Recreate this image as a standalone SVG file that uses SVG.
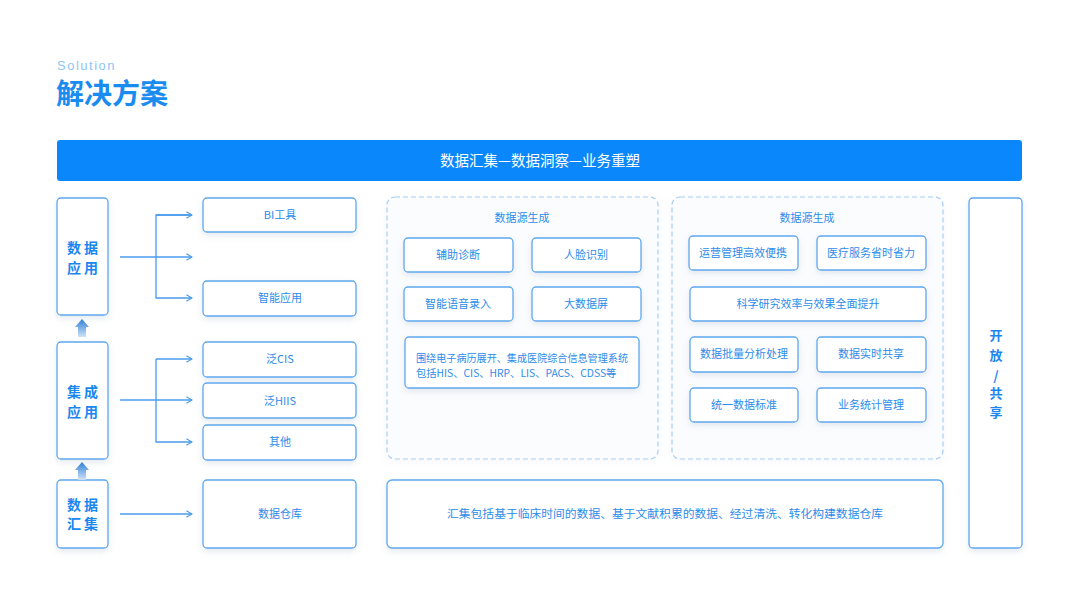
<svg xmlns="http://www.w3.org/2000/svg" width="1080" height="608" viewBox="0 0 1080 608">
<defs>
<filter id="sh" x="-20%" y="-20%" width="140%" height="160%">
<feDropShadow dx="0" dy="3" stdDeviation="3" flood-color="#8aa0b8" flood-opacity="0.22"/>
</filter>
<filter id="psh" x="-10%" y="-10%" width="120%" height="120%">
<feDropShadow dx="0" dy="2" stdDeviation="4" flood-color="#b0c4d8" flood-opacity="0.15"/>
</filter>
<linearGradient id="ug" x1="0" y1="0" x2="0" y2="1">
<stop offset="0" stop-color="#2f7fd6"/>
<stop offset="1" stop-color="#cfe3f8"/>
</linearGradient>
<marker id="ar" viewBox="0 0 10 10" refX="9" refY="5" markerWidth="8" markerHeight="8" markerUnits="userSpaceOnUse" orient="auto">
<path d="M2,1 L9,5 L2,9" fill="none" stroke="#4a9bec" stroke-width="1.5"/>
</marker>
</defs>
<style>
.box{fill:#fff;stroke:#5fa8ef;stroke-width:1.3;filter:url(#sh)}
.pan{fill:#fbfcfe;stroke:#a9cef4;stroke-width:1.2;stroke-dasharray:5 3;filter:url(#psh)}
.t{font-family:"Noto Sans CJK SC","Liberation Sans",sans-serif;fill:#2c8cea;font-size:11px;text-anchor:middle}
.tb{font-family:"Noto Sans CJK SC","Liberation Sans",sans-serif;fill:#1a86ef;font-size:14px;font-weight:bold;text-anchor:middle;letter-spacing:3px}
.ln{fill:none;stroke:#4a9bec;stroke-width:1.3}
</style>
<rect width="1080" height="608" fill="#fff"/>
<g id="title">
<text x="57" y="70" font-family="Liberation Sans, sans-serif" font-size="13" fill="#8fc4f3" letter-spacing="1.5">Solution</text>
<text x="56" y="104" font-family="Noto Sans CJK SC, sans-serif" font-size="28" font-weight="bold" fill="#1a8cf0">解决方案</text>
</g>
<g id="topbar">
<rect x="57" y="140" width="965" height="41" rx="3" fill="#0a88fb"/>
<text x="540" y="166" font-family="Noto Sans CJK SC, sans-serif" font-size="14.5" fill="#fff" text-anchor="middle">数据汇集—数据洞察—业务重塑</text>
</g>
<g id="n-sjyy"><rect class="box" x="57" y="198" width="51" height="117" rx="4"/><text class="tb" x="84" y="253">数据</text><text class="tb" x="84" y="273">应用</text></g>
<g id="n-jcyy"><rect class="box" x="57" y="342" width="51" height="117" rx="4"/><text class="tb" x="84" y="397">集成</text><text class="tb" x="84" y="417">应用</text></g>
<g id="n-sjhj"><rect class="box" x="57" y="480" width="51" height="68" rx="4"/><text class="tb" x="84" y="510">数据</text><text class="tb" x="84" y="529">汇集</text></g>
<g id="n-bi"><rect class="box" x="203" y="198" width="153" height="34" rx="4"/><text class="t" x="280" y="219" font-size="12">BI工具</text></g>
<g id="n-zn"><rect class="box" x="203" y="281" width="153" height="35" rx="4"/><text class="t" x="280" y="302" font-size="12">智能应用</text></g>
<g id="n-cis"><rect class="box" x="203" y="342" width="153" height="35" rx="4"/><text class="t" x="280" y="363" font-size="12">泛CIS</text></g>
<g id="n-hiis"><rect class="box" x="203" y="383" width="153" height="35" rx="4"/><text class="t" x="280" y="405" font-size="12">泛HIIS</text></g>
<g id="n-qt"><rect class="box" x="203" y="425" width="153" height="35" rx="4"/><text class="t" x="280" y="446" font-size="12">其他</text></g>
<g id="n-ck"><rect class="box" x="203" y="480" width="153" height="68" rx="4"/><text class="t" x="280" y="518" font-size="12">数据仓库</text></g>
<g id="p1">
<rect class="pan" x="387" y="197" width="271" height="262" rx="8"/>
<text class="t" x="522" y="222" font-size="12">数据源生成</text>
<rect class="box" x="404" y="238" width="109" height="34" rx="4"/><text class="t" x="458" y="259">辅助诊断</text>
<rect class="box" x="532" y="238" width="109" height="34" rx="4"/><text class="t" x="586" y="259">人脸识别</text>
<rect class="box" x="404" y="287" width="109" height="34" rx="4"/><text class="t" x="458" y="308">智能语音录入</text>
<rect class="box" x="532" y="287" width="109" height="34" rx="4"/><text class="t" x="586" y="308">大数据屏</text>
<rect class="box" x="405" y="337" width="234" height="51" rx="4"/>
<text class="t" x="416" y="362" style="text-anchor:start;font-size:10.3px" textLength="212" lengthAdjust="spacingAndGlyphs">围绕电子病历展开、集成医院综合信息管理系统</text>
<text class="t" x="416" y="377" style="text-anchor:start;font-size:10.3px">包括HIS、CIS、HRP、LIS、PACS、CDSS等</text>
</g>
<g id="p2">
<rect class="pan" x="672" y="197" width="271" height="262" rx="8"/>
<text class="t" x="807" y="222" font-size="12">数据源生成</text>
<rect class="box" x="689" y="236" width="109" height="34" rx="4"/><text class="t" x="743" y="257">运营管理高效便携</text>
<rect class="box" x="817" y="236" width="109" height="34" rx="4"/><text class="t" x="871" y="257">医疗服务省时省力</text>
<rect class="box" x="690" y="287" width="236" height="34" rx="4"/><text class="t" x="808" y="308">科学研究效率与效果全面提升</text>
<rect class="box" x="690" y="337" width="108" height="35" rx="4"/><text class="t" x="744" y="358">数据批量分析处理</text>
<rect class="box" x="817" y="337" width="109" height="35" rx="4"/><text class="t" x="871" y="358">数据实时共享</text>
<rect class="box" x="690" y="388" width="108" height="34" rx="4"/><text class="t" x="744" y="409">统一数据标准</text>
<rect class="box" x="817" y="388" width="109" height="34" rx="4"/><text class="t" x="871" y="409">业务统计管理</text>
</g>
<g id="n-bottom"><rect class="box" x="387" y="480" width="556" height="68" rx="5"/><text class="t" x="665" y="518" font-size="12.5" textLength="436" lengthAdjust="spacingAndGlyphs">汇集包括基于临床时间的数据、基于文献积累的数据、经过清洗、转化构建数据仓库</text></g>
<g id="n-kf"><rect class="box" x="969" y="198" width="53" height="350" rx="4"/>
<g font-family="Noto Sans CJK SC, sans-serif" font-size="13" font-weight="bold" fill="#1a86ef" text-anchor="middle">
<text x="996" y="340">开</text><text x="996" y="360">放</text><text x="996" y="381">/</text><text x="996" y="398">共</text><text x="996" y="417">享</text>
</g></g>
<g id="connectors">
<path class="ln" d="M120,257 H192" marker-end="url(#ar)"/>
<path class="ln" d="M192,215 H156 V298 H192" marker-end="url(#ar)"/>
<path class="ln" d="M156,215 H192" marker-end="url(#ar)"/>
<path class="ln" d="M120,400 H192" marker-end="url(#ar)"/>
<path class="ln" d="M156,359 V442 H192" marker-end="url(#ar)"/>
<path class="ln" d="M156,359 H192" marker-end="url(#ar)"/>
<path class="ln" d="M120,514 H192" marker-end="url(#ar)"/>
<path d="M82,319 L89,327 L86,327 L86,337 L78,337 L78,327 L75,327 Z" fill="url(#ug)"/>
<path d="M82,462 L89,470 L86,470 L86,480 L78,480 L78,470 L75,470 Z" fill="url(#ug)"/>
</g>
</svg>
